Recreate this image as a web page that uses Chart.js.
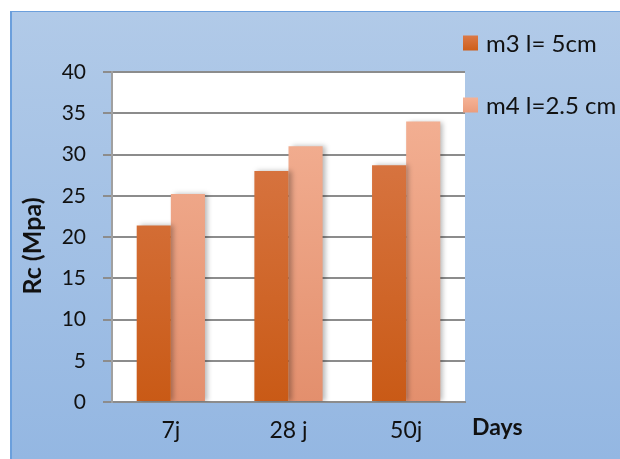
<!DOCTYPE html>
<html>
<head>
<meta charset="utf-8">
<script src="https://cdn.jsdelivr.net/npm/chart.js@4.4.1/dist/chart.umd.min.js"></script>
<style>
html,body{margin:0;padding:0;background:#fff;}
#wrap{width:620px;height:459px;}
</style>
</head>
<body>
<div id="wrap"><canvas id="c" width="620" height="459"></canvas></div>
<script>
const categories = ["7j", "28 j", "50j"];
const seriesNames = ["m3 l= 5cm", "m4 l=2.5 cm"];
const m3Values = [21.4, 28.0, 28.7];
const m4Values = [25.2, 31.0, 34.0];
const yTicks = [0, 5, 10, 15, 20, 25, 30, 35, 40];
const yTitle = "Rc (Mpa)";
const xTitle = "Days";

const FONT = "Lato, 'Open Sans', sans-serif";

function vGrad(ctx, area, top, bottom) {
  if (!area) return top;
  const g = ctx.createLinearGradient(0, area.top, 0, area.bottom);
  g.addColorStop(0, top);
  g.addColorStop(1, bottom);
  return g;
}

const bgPlugin = {
  id: 'bg',
  beforeDraw(chart) {
    const ctx = chart.ctx, a = chart.chartArea;
    ctx.save();
    const g = ctx.createLinearGradient(0, 11, 0, 459);
    g.addColorStop(0, '#b1cae8');
    g.addColorStop(1, '#94b7e2');
    ctx.fillStyle = g;
    ctx.fillRect(10, 11, 610, 448);
    ctx.fillStyle = '#6b9fdc';
    ctx.fillRect(10, 11, 2, 448);
    ctx.fillRect(10, 11, 610, 1);
    ctx.fillStyle = '#ffffff';
    ctx.fillRect(a.left, a.top, a.right - a.left, a.bottom - a.top);
    ctx.restore();
  },
  beforeDatasetsDraw(chart) {
    const ctx = chart.ctx;
    ctx.save();
    ctx.shadowColor = 'rgba(0,0,0,0.28)';
    ctx.shadowBlur = 5;
    ctx.shadowOffsetX = 3;
    ctx.shadowOffsetY = 0;
  },
  afterDatasetsDraw(chart) {
    chart.ctx.restore();
  },
  afterDraw(chart) {
    const ctx = chart.ctx;
    ctx.save();
    // legend
    const items = [
      {y: 43, top: '#dc7a48', bottom: '#cd5d18'},
      {y: 105, top: '#f5b397', bottom: '#eb9c7c'}
    ];
    chart.data.datasets.forEach((ds, i) => {
      const it = items[i];
      const g = ctx.createLinearGradient(0, it.y - 8, 0, it.y + 8);
      g.addColorStop(0, it.top);
      g.addColorStop(1, it.bottom);
      ctx.fillStyle = g;
      ctx.fillRect(463, it.y - 7.5, 15, 15);
      ctx.fillStyle = '#111';
      ctx.font = "24px " + FONT;
      ctx.textBaseline = 'middle';
      ctx.textAlign = 'left';
      ctx.fillText(ds.label, 486, it.y + 1);
    });
    // x title
    ctx.font = "bold 23px " + FONT;
    ctx.fillStyle = '#111';
    ctx.textBaseline = 'middle';
    ctx.textAlign = 'left';
    ctx.fillText(xTitle, 472, 428);
    // y title
    ctx.font = "bold 25px " + FONT;
    ctx.translate(33, 246);
    ctx.rotate(-Math.PI / 2);
    ctx.textAlign = 'center';
    ctx.fillText(yTitle, 0, 0);
    ctx.restore();
  }
};

const ctx = document.getElementById('c').getContext('2d');
new Chart(ctx, {
  type: 'bar',
  data: {
    labels: categories,
    datasets: [
      {
        label: seriesNames[0],
        data: m3Values,
        backgroundColor: (c) => vGrad(c.chart.ctx, c.chart.chartArea, '#dc7d4f', '#c95a16'),
        borderWidth: 0
      },
      {
        label: seriesNames[1],
        data: m4Values,
        backgroundColor: (c) => vGrad(c.chart.ctx, c.chart.chartArea, '#f5b498', '#e38f6d'),
        borderWidth: 0
      }
    ]
  },
  plugins: [bgPlugin],
  options: {
    responsive: false,
    animation: false,
    devicePixelRatio: 1,
    layout: { padding: { left: 10, right: 155, top: 72, bottom: 0 } },
    plugins: { legend: { display: false }, tooltip: { enabled: false } },
    datasets: { bar: { categoryPercentage: 0.58, barPercentage: 1.0 } },
    scales: {
      x: {
        grid: { display: false, drawTicks: false },
        border: { display: true, color: '#8c8c8c', width: 2 },
        ticks: { color: '#111', font: { family: FONT, size: 23 }, padding: 15 },
        afterFit(scale) { scale.height = 57; }
      },
      y: {
        min: 0, max: 40,
        afterBuildTicks(scale) { scale.ticks = yTicks.map(v => ({ value: v })); },
        grid: { color: '#8c8c8c', lineWidth: 2, tickLength: 9, drawTicks: true },
        border: { display: true, color: '#a0a0a0', width: 2 },
        ticks: { color: '#111', font: { family: FONT, size: 21 }, padding: 17 },
        title: { display: false },
        afterFit(scale) { scale.width = 102; }
      }
    }
  }
});
</script>
</body>
</html>
